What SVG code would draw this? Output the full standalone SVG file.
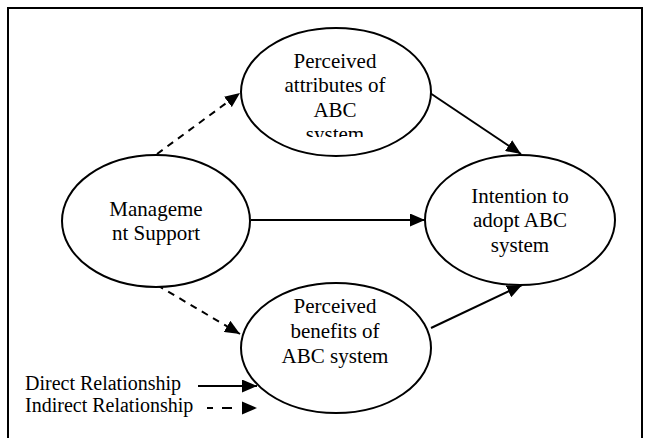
<svg xmlns="http://www.w3.org/2000/svg" width="651" height="438" viewBox="0 0 651 438">
<style>
.n{fill:#fff;stroke:#000;stroke-width:2}
.t{font-family:"Liberation Serif","Times New Roman",serif;font-size:21px;fill:#000;text-anchor:middle}
.l{font-family:"Liberation Serif","Times New Roman",serif;font-size:20px;fill:#000}
.c{stroke:#000;stroke-width:2;fill:none}
.d{stroke-dasharray:7,6}
</style>
<defs>
<marker id="ah" markerUnits="userSpaceOnUse" markerWidth="15" markerHeight="13" refX="15" refY="6.5" orient="auto">
<path d="M0,0 L15,6.5 L0,13 z" fill="#000"/>
</marker>
<clipPath id="clipTop"><rect x="230" y="20" width="210" height="117"/></clipPath>
</defs>
<rect x="8" y="8" width="634" height="440" fill="#fff" stroke="#000" stroke-width="2"/>
<g id="connectors">
<line class="c d" x1="157" y1="154" x2="240" y2="93" marker-end="url(#ah)"/>
<line class="c d" x1="157" y1="285" x2="240" y2="334" marker-end="url(#ah)"/>
<line class="c" x1="430" y1="93" x2="521" y2="154" marker-end="url(#ah)"/>
<line class="c" x1="251" y1="220" x2="425" y2="220" marker-end="url(#ah)"/>
<line class="c" x1="431" y1="328" x2="522" y2="285" marker-end="url(#ah)"/>
</g>
<g id="node-attributes">
<ellipse class="n" cx="336" cy="92" rx="95" ry="64"/>
<g clip-path="url(#clipTop)">
<text class="t" x="335" y="68">Perceived</text>
<text class="t" x="335" y="92">attributes of</text>
<text class="t" x="335" y="117">ABC</text>
<text class="t" x="335" y="141">system</text>
</g>
</g>
<g id="node-management">
<ellipse class="n" cx="156" cy="221" rx="94" ry="66"/>
<text class="t" x="156" y="216">Manageme</text>
<text class="t" x="156" y="240">nt Support</text>
</g>
<g id="node-intention">
<ellipse class="n" cx="520" cy="220" rx="95" ry="65"/>
<text class="t" x="520" y="203">Intention to</text>
<text class="t" x="520" y="227">adopt ABC</text>
<text class="t" x="520" y="252">system</text>
</g>
<g id="node-benefits">
<ellipse class="n" cx="336" cy="348" rx="95" ry="65"/>
<text class="t" x="335" y="313">Perceived</text>
<text class="t" x="335" y="338">benefits of</text>
<text class="t" x="335" y="363">ABC system</text>
</g>
<g id="legend">
<text class="l" x="25" y="390">Direct Relationship</text>
<text class="l" x="25" y="412">Indirect Relationship</text>
<line class="c" x1="198" y1="386" x2="257" y2="386" marker-end="url(#ah)"/>
<line class="c" x1="207" y1="408" x2="213" y2="408"/>
<line class="c" x1="222" y1="408" x2="232" y2="408"/>
<path d="M242,401.5 L257,408 L242,414.5 z" fill="#000"/>
</g>
</svg>
